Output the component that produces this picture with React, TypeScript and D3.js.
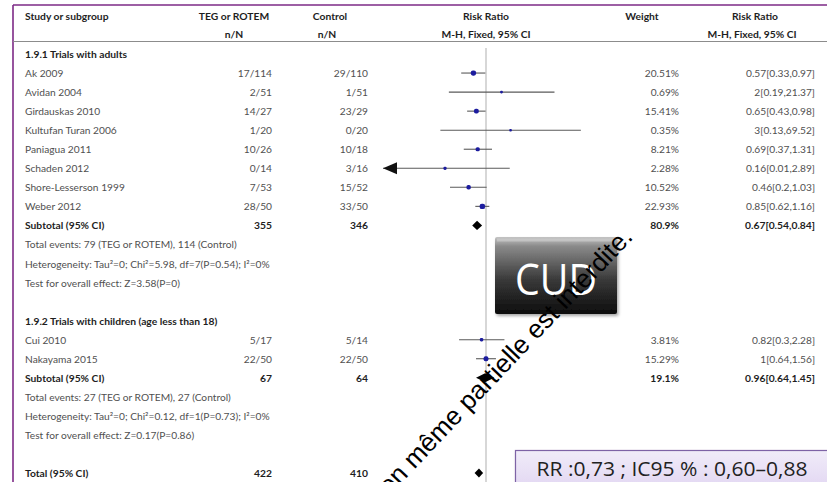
import React from "react";
import * as d3 from "d3";

// Adults subgroup
const adultStudies = ["Ak 2009", "Avidan 2004", "Girdauskas 2010", "Kultufan Turan 2006", "Paniagua 2011", "Schaden 2012", "Shore-Lesserson 1999", "Weber 2012"];
const adultTegEvents = [17, 2, 14, 1, 10, 0, 7, 28];
const adultTegTotal = [114, 51, 27, 20, 26, 14, 53, 50];
const adultCtrlEvents = [29, 1, 23, 0, 10, 3, 15, 33];
const adultCtrlTotal = [110, 51, 29, 20, 18, 16, 52, 50];
const adultWeight = [20.51, 0.69, 15.41, 0.35, 8.21, 2.28, 10.52, 22.93];
const adultRR = [0.57, 2, 0.65, 3, 0.69, 0.16, 0.46, 0.85];
const adultLo = [0.33, 0.19, 0.43, 0.13, 0.37, 0.01, 0.2, 0.62];
const adultHi = [0.97, 21.37, 0.98, 69.52, 1.31, 2.89, 1.03, 1.16];

// Children subgroup
const childStudies = ["Cui 2010", "Nakayama 2015"];
const childTegEvents = [5, 22];
const childTegTotal = [17, 50];
const childCtrlEvents = [5, 22];
const childCtrlTotal = [14, 50];
const childWeight = [3.81, 15.29];
const childRR = [0.82, 1];
const childLo = [0.3, 0.64];
const childHi = [2.28, 1.56];

// Pooled estimates: [adults, children, total]
const pooledLabels = ["Subtotal (95% CI)", "Subtotal (95% CI)", "Total (95% CI)"];
const pooledTegTotal = [355, 67, 422];
const pooledCtrlTotal = [346, 64, 410];
const pooledWeight = [80.9, 19.1, 100];
const pooledRR = [0.67, 0.96, 0.73];
const pooledLo = [0.54, 0.64, 0.6];
const pooledHi = [0.84, 1.45, 0.88];

const adultNotes = [
  "Total events: 79 (TEG or ROTEM), 114 (Control)",
  "Heterogeneity: Tau\u00b2=0; Chi\u00b2=5.98, df=7(P=0.54); I\u00b2=0%",
  "Test for overall effect: Z=3.58(P=0)",
];
const childNotes = [
  "Total events: 27 (TEG or ROTEM), 27 (Control)",
  "Heterogeneity: Tau\u00b2=0; Chi\u00b2=0.12, df=1(P=0.73); I\u00b2=0%",
  "Test for overall effect: Z=0.17(P=0.86)",
];
const groupTitles = ["1.9.1 Trials with adults", "1.9.2 Trials with children (age less than 18)"];
const axisDomain = [0.01, 100];

const W = 827;
const H = 482;
const FONT = "Lato, 'Open Sans', sans-serif";

type Row =
  | { kind: "title"; text: string }
  | { kind: "study"; name: string; te: number; tn: number; ce: number; cn: number; w: number; rr: number; lo: number; hi: number }
  | { kind: "pooled"; name: string; tn: number; cn: number; w: number; rr: number; lo: number; hi: number; showRight: boolean }
  | { kind: "note"; text: string }
  | { kind: "blank" };

function buildRows(): Row[] {
  const rows: Row[] = [];
  rows.push({ kind: "title", text: groupTitles[0] });
  adultStudies.forEach((name, i) =>
    rows.push({ kind: "study", name, te: adultTegEvents[i], tn: adultTegTotal[i], ce: adultCtrlEvents[i], cn: adultCtrlTotal[i], w: adultWeight[i], rr: adultRR[i], lo: adultLo[i], hi: adultHi[i] })
  );
  rows.push({ kind: "pooled", name: pooledLabels[0], tn: pooledTegTotal[0], cn: pooledCtrlTotal[0], w: pooledWeight[0], rr: pooledRR[0], lo: pooledLo[0], hi: pooledHi[0], showRight: true });
  adultNotes.forEach((t) => rows.push({ kind: "note", text: t }));
  rows.push({ kind: "blank" });
  rows.push({ kind: "title", text: groupTitles[1] });
  childStudies.forEach((name, i) =>
    rows.push({ kind: "study", name, te: childTegEvents[i], tn: childTegTotal[i], ce: childCtrlEvents[i], cn: childCtrlTotal[i], w: childWeight[i], rr: childRR[i], lo: childLo[i], hi: childHi[i] })
  );
  rows.push({ kind: "pooled", name: pooledLabels[1], tn: pooledTegTotal[1], cn: pooledCtrlTotal[1], w: pooledWeight[1], rr: pooledRR[1], lo: pooledLo[1], hi: pooledHi[1], showRight: true });
  childNotes.forEach((t) => rows.push({ kind: "note", text: t }));
  rows.push({ kind: "blank" });
  // the overall estimate is reported in the callout box instead of the right-hand columns
  rows.push({ kind: "pooled", name: pooledLabels[2], tn: pooledTegTotal[2], cn: pooledCtrlTotal[2], w: pooledWeight[2], rr: pooledRR[2], lo: pooledLo[2], hi: pooledHi[2], showRight: false });
  return rows;
}

const fmtComma = (v: number, digits?: number) => (digits === undefined ? String(v) : v.toFixed(digits)).replace(".", ",");

export default function App() {
  const rows = buildRows();
  const x = d3.scaleLog().domain(axisDomain).range([383, 589]);
  const y = d3.scaleLinear().domain([0, rows.length - 1]).range([54, 473]);
  const size = d3.scaleSqrt().domain([0, 25]).range([2.2, 5.6]);

  const colName = 25;
  const colTeg = 272;
  const colCtrl = 368;
  const colW = 679;
  const colRR = 815;

  const textGray = "#505050";
  const textDark = "#1e1e1e";
  const fs = 10.2;
  const fsBold = 10.3;

  const rrLabel = (rr: number, lo: number, hi: number) => `${rr}[${lo},${hi}]`;

  return (
    <svg width={W} height={H} style={{ position: "absolute", left: 0, top: 0, background: "#fff" }} fontFamily={FONT}>
      <defs>
        <linearGradient id="cudGrad" x1="0" y1="0" x2="0" y2="1">
          <stop offset="0" stopColor="#c4c4c4" />
          <stop offset="0.12" stopColor="#8a8a8a" />
          <stop offset="0.55" stopColor="#3a3a3a" />
          <stop offset="1" stopColor="#0c0c0c" />
        </linearGradient>
        <linearGradient id="rrGrad" x1="0" y1="0" x2="0" y2="1">
          <stop offset="0" stopColor="#f1ecf9" />
          <stop offset="1" stopColor="#ddd0f0" />
        </linearGradient>
        <filter id="shadow" x="-10%" y="-10%" width="130%" height="140%">
          <feDropShadow dx="1.5" dy="2" stdDeviation="1.5" floodColor="#000" floodOpacity="0.35" />
        </filter>
      </defs>

      {/* frame */}
      <line x1={13} x2={W} y1={5} y2={5} stroke="#7d2a86" strokeWidth={1.6} />
      <line x1={13} x2={13} y1={5} y2={H} stroke="#7d2a86" strokeWidth={1.6} />

      {/* header */}
      <g fontWeight={700} fontSize={fsBold} fill={textDark}>
        <text x={colName} y={16} dominantBaseline="central">Study or subgroup</text>
        <text x={234} y={16} dominantBaseline="central" textAnchor="middle">TEG or ROTEM</text>
        <text x={330} y={16} dominantBaseline="central" textAnchor="middle">Control</text>
        <text x={x(1)} y={16} dominantBaseline="central" textAnchor="middle">Risk Ratio</text>
        <text x={642} y={16} dominantBaseline="central" textAnchor="middle">Weight</text>
        <text x={755} y={16} dominantBaseline="central" textAnchor="middle">Risk Ratio</text>
        <text x={234} y={34} dominantBaseline="central" textAnchor="middle">n/N</text>
        <text x={327} y={34} dominantBaseline="central" textAnchor="middle">n/N</text>
        <text x={x(1)} y={34} dominantBaseline="central" textAnchor="middle">M-H, Fixed, 95% CI</text>
        <text x={752} y={34} dominantBaseline="central" textAnchor="middle">M-H, Fixed, 95% CI</text>
      </g>
      <line x1={13} x2={W} y1={41.5} y2={41.5} stroke="#8c8c8c" strokeWidth={1} />

      {/* line of no effect */}
      <line x1={x(1)} x2={x(1)} y1={48} y2={H} stroke="#bcbcbc" strokeWidth={1.2} />

      {rows.map((r, i) => {
        const yy = y(i);
        if (r.kind === "title") {
          return (
            <text key={i} x={colName} y={yy} dominantBaseline="central" fontSize={fsBold} fontWeight={700} fill={textDark}>
              {r.text}
            </text>
          );
        }
        if (r.kind === "note") {
          return (
            <text key={i} x={colName} y={yy} dominantBaseline="central" fontSize={fs} fill={textGray}>
              {r.text}
            </text>
          );
        }
        if (r.kind === "study") {
          const s = size(r.w);
          const clippedLo = r.lo <= axisDomain[0];
          return (
            <g key={i}>
              <text x={colName} y={yy} dominantBaseline="central" fontSize={fs} fill={textGray}>{r.name}</text>
              <text x={colTeg} y={yy} dominantBaseline="central" fontSize={fs} fill={textGray} textAnchor="end">{`${r.te}/${r.tn}`}</text>
              <text x={colCtrl} y={yy} dominantBaseline="central" fontSize={fs} fill={textGray} textAnchor="end">{`${r.ce}/${r.cn}`}</text>
              <text x={colW} y={yy} dominantBaseline="central" fontSize={fs} fill={textGray} textAnchor="end">{`${r.w}%`}</text>
              <text x={colRR} y={yy} dominantBaseline="central" fontSize={fs} fill={textGray} textAnchor="end">{rrLabel(r.rr, r.lo, r.hi)}</text>
              <line x1={x(Math.max(r.lo, axisDomain[0]))} x2={x(Math.min(r.hi, axisDomain[1]))} y1={yy} y2={yy} stroke="#5a5a5a" strokeWidth={1.1} />
              {clippedLo && (
                <path
                  d={`M${x(axisDomain[0])},${yy} L${x(axisDomain[0]) + 14},${yy - 6} L${x(axisDomain[0]) + 14},${yy + 6} Z`}
                  fill="#111"
                />
              )}
              <rect x={x(r.rr) - s / 2} y={yy - s / 2} width={s} height={s} rx={s / 2.5} fill="#1c1c9e" />
            </g>
          );
        }
        if (r.kind === "pooled") {
          const h = 4.6;
          return (
            <g key={i}>
              <text x={colName} y={yy} dominantBaseline="central" fontSize={fsBold} fontWeight={700} fill={textDark}>{r.name}</text>
              <text x={colTeg} y={yy} dominantBaseline="central" fontSize={fsBold} fontWeight={700} fill={textDark} textAnchor="end">{r.tn}</text>
              <text x={colCtrl} y={yy} dominantBaseline="central" fontSize={fsBold} fontWeight={700} fill={textDark} textAnchor="end">{r.cn}</text>
              {r.showRight && (
                <>
                  <text x={colW} y={yy} dominantBaseline="central" fontSize={fsBold} fontWeight={700} fill={textDark} textAnchor="end">{`${r.w}%`}</text>
                  <text x={colRR} y={yy} dominantBaseline="central" fontSize={fsBold} fontWeight={700} fill={textDark} textAnchor="end">{rrLabel(r.rr, r.lo, r.hi)}</text>
                </>
              )}
              <path d={`M${x(r.lo)},${yy} L${x(r.rr)},${yy - h} L${x(r.hi)},${yy} L${x(r.rr)},${yy + h} Z`} fill="#000" />
            </g>
          );
        }
        return null;
      })}

      {/* CUD badge */}
      <g filter="url(#shadow)">
        <rect x={495} y={237} width={122} height={77} rx={2} fill="url(#cudGrad)" />
      </g>
      <rect x={497} y={238.5} width={118} height={3} fill="#d8d8d8" opacity={0.5} />
      <text x={556} y={278} textAnchor="middle" dominantBaseline="central" fontSize={44} fill="#fff" fontFamily="'Open Sans', Lato, sans-serif" textLength={82} lengthAdjust="spacingAndGlyphs">
        CUD
      </text>

      {/* pooled result callout */}
      <g filter="url(#shadow)">
        <rect x={515.5} y={450.5} width={330} height={50} fill="url(#rrGrad)" stroke="#7e63a6" strokeWidth={1.2} />
      </g>
      <text x={672} y={468} textAnchor="middle" dominantBaseline="central" fontSize={20} fill="#222" fontFamily="'Open Sans', Lato, sans-serif" textLength={271} lengthAdjust="spacingAndGlyphs">
        {`RR :${fmtComma(pooledRR[2])} ; IC95 % : ${fmtComma(pooledLo[2], 2)}\u2013${fmtComma(pooledHi[2], 2)}`}
      </text>

      {/* diagonal notice */}
      <text
        x={634}
        y={238}
        textAnchor="end"
        fontSize={26}
        fill="#000"
        fontFamily="'Liberation Sans', Arial, sans-serif"
        transform="rotate(-46.5 634 238)"
      >
        Toute reproduction même partielle est interdite.
      </text>
    </svg>
  );
}
